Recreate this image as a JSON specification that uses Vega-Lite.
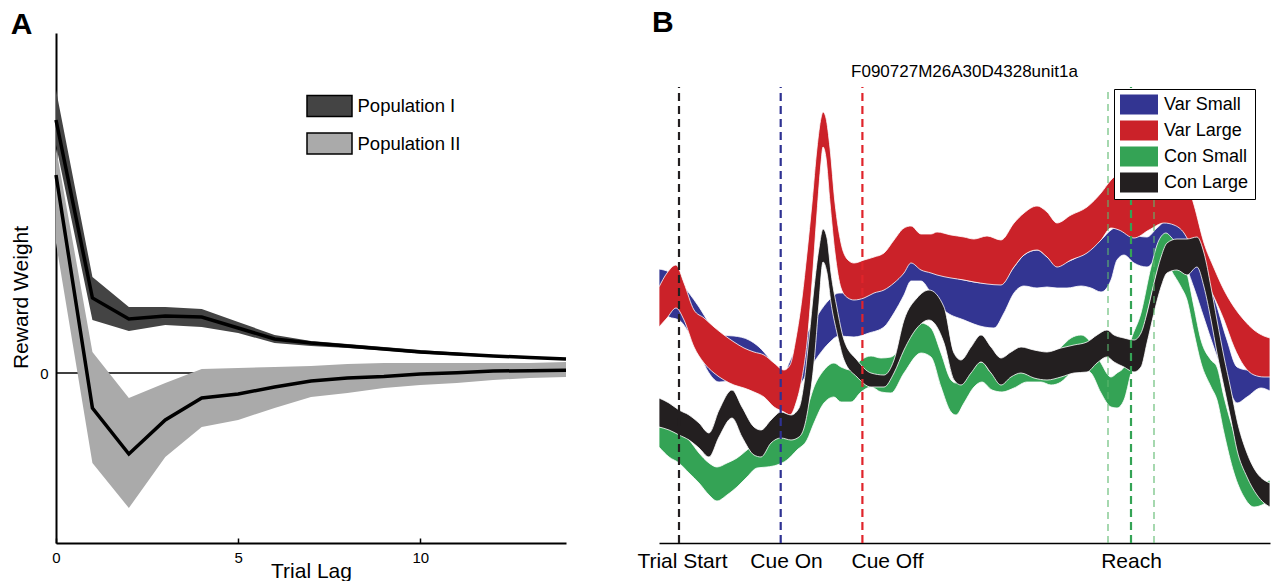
{
  "$schema": "https://vega.github.io/schema/vega-lite/v6.json",
  "padding": {"left": 10, "top": 7, "right": 0, "bottom": 0},
  "spacing": 63,
  "align": "none",
  "config": {
    "font": "Liberation Sans",
    "view": {"stroke": null},
    "axis": {"grid": false, "domainColor": "black", "labelColor": "black", "titleColor": "black", "tickColor": "black", "titleFontWeight": "normal"},
    "legend": {"labelColor": "black"},
    "title": {"color": "black"}
  },
  "resolve": {"scale": {"color": "independent"}},
  "hconcat": [
    {
      "title": {"text": "A", "anchor": "start", "frame": "bounds", "fontSize": 30, "fontWeight": "bold", "offset": -7},
      "width": 510,
      "height": 510,
      "layer": [
        {
          "data": {"values": [{"z": 0}]},
          "mark": {"type": "rule", "color": "black", "strokeWidth": 1.5},
          "encoding": {"y": {"field": "z", "type": "quantitative", "scale": {"domain": [-1.7, 3.4], "nice": false, "zero": false}}}
        },
        {
          "data": {"values": [
            {"pop": "Population II", "lag": 0, "m": 1.98, "lo": 1.30, "hi": 2.25},
            {"pop": "Population II", "lag": 1, "m": -0.35, "lo": -0.90, "hi": 0.21},
            {"pop": "Population II", "lag": 2, "m": -0.81, "lo": -1.35, "hi": -0.25},
            {"pop": "Population II", "lag": 3, "m": -0.47, "lo": -0.84, "hi": -0.10},
            {"pop": "Population II", "lag": 4, "m": -0.25, "lo": -0.54, "hi": 0.04},
            {"pop": "Population II", "lag": 5, "m": -0.21, "lo": -0.47, "hi": 0.05},
            {"pop": "Population II", "lag": 6, "m": -0.14, "lo": -0.35, "hi": 0.06},
            {"pop": "Population II", "lag": 7, "m": -0.08, "lo": -0.24, "hi": 0.07},
            {"pop": "Population II", "lag": 8, "m": -0.05, "lo": -0.20, "hi": 0.09},
            {"pop": "Population II", "lag": 9, "m": -0.035, "lo": -0.15, "hi": 0.10},
            {"pop": "Population II", "lag": 10, "m": -0.01, "lo": -0.12, "hi": 0.10},
            {"pop": "Population II", "lag": 11, "m": 0.003, "lo": -0.10, "hi": 0.10},
            {"pop": "Population II", "lag": 12, "m": 0.02, "lo": -0.07, "hi": 0.10},
            {"pop": "Population II", "lag": 13, "m": 0.023, "lo": -0.05, "hi": 0.10},
            {"pop": "Population II", "lag": 14, "m": 0.027, "lo": -0.04, "hi": 0.11},
            {"pop": "Population I", "lag": 0, "m": 2.53, "lo": 2.28, "hi": 2.83},
            {"pop": "Population I", "lag": 1, "m": 0.75, "lo": 0.53, "hi": 0.96},
            {"pop": "Population I", "lag": 2, "m": 0.54, "lo": 0.42, "hi": 0.66},
            {"pop": "Population I", "lag": 3, "m": 0.57, "lo": 0.48, "hi": 0.66},
            {"pop": "Population I", "lag": 4, "m": 0.56, "lo": 0.46, "hi": 0.64},
            {"pop": "Population I", "lag": 5, "m": 0.45, "lo": 0.40, "hi": 0.51},
            {"pop": "Population I", "lag": 6, "m": 0.34, "lo": 0.30, "hi": 0.38},
            {"pop": "Population I", "lag": 7, "m": 0.30, "lo": 0.27, "hi": 0.32},
            {"pop": "Population I", "lag": 8, "m": 0.27, "lo": 0.25, "hi": 0.29},
            {"pop": "Population I", "lag": 9, "m": 0.24, "lo": 0.225, "hi": 0.26},
            {"pop": "Population I", "lag": 10, "m": 0.21, "lo": 0.195, "hi": 0.23},
            {"pop": "Population I", "lag": 11, "m": 0.19, "lo": 0.175, "hi": 0.205},
            {"pop": "Population I", "lag": 12, "m": 0.17, "lo": 0.16, "hi": 0.18},
            {"pop": "Population I", "lag": 13, "m": 0.155, "lo": 0.145, "hi": 0.165},
            {"pop": "Population I", "lag": 14, "m": 0.14, "lo": 0.13, "hi": 0.15}
          ]},
          "layer": [
            {
              "mark": {"type": "area", "opacity": 1},
              "encoding": {
                "x": {"field": "lag", "type": "quantitative", "scale": {"domain": [0, 14], "nice": false},
                  "axis": {"values": [0, 5, 10], "title": "Trial Lag", "titleFontSize": 21, "labelFontSize": 15, "domainWidth": 2, "tickSize": -5, "tickWidth": 1.5, "labelPadding": 12, "titlePadding": -5, "labelFlush": false}},
                "y": {"field": "lo", "type": "quantitative", "scale": {"domain": [-1.7, 3.4], "nice": false, "zero": false},
                  "axis": {"values": [0], "labelExpr": "'0'", "title": "Reward Weight", "titleFontSize": 21, "labelFontSize": 15, "domainWidth": 2, "ticks": false, "labelPadding": 8, "titlePadding": 8, "titleY": 264}},
                "y2": {"field": "hi"},
                "color": {"field": "pop", "type": "nominal",
                  "scale": {"domain": ["Population I", "Population II"], "range": ["#444444", "#aaaaaa"]},
                  "legend": {"orient": "none", "legendX": 250, "legendY": 61.5, "title": null, "padding": 0,
                    "symbolType": "M-1,-1H3.286V1H-1Z", "symbolSize": 441, "symbolStrokeColor": "black", "symbolStrokeWidth": 1.5, "symbolOpacity": 1,
                    "labelFontSize": 18.5, "labelOffset": 28.5, "rowPadding": 10.5}}
              }
            },
            {
              "mark": {"type": "line", "color": "black", "strokeWidth": 3.5},
              "encoding": {
                "x": {"field": "lag", "type": "quantitative"},
                "y": {"field": "m", "type": "quantitative"},
                "detail": {"field": "pop"}
              }
            }
          ]
        }
      ]
    },
    {
      "title": {"text": "B", "anchor": "start", "frame": "bounds", "fontSize": 30, "fontWeight": "bold", "offset": -7, "dx": 15},
      "spacing": 26,
      "vconcat": [
        {
          "width": 611,
          "height": 1,
          "data": {"values": [{"t": 0}]},
          "mark": {"type": "point", "opacity": 0},
          "encoding": {"x": {"field": "t", "type": "quantitative", "axis": null}}
        },
        {
          "title": {"text": "F090727M26A30D4328unit1a", "fontSize": 17, "fontWeight": "normal", "offset": 2},
          "width": 611,
          "height": 460,
          "encoding": {
            "x": {"field": "t", "type": "quantitative", "scale": {"domain": [0, 611], "nice": false},
              "axis": {"values": [23, 127, 228, 472], "labelExpr": "datum.value == 23 ? 'Trial Start' : datum.value == 127 ? 'Cue On' : datum.value == 228 ? 'Cue Off' : 'Reach'",
                "title": null, "labelFontSize": 21, "ticks": false, "labelPadding": 7, "domainWidth": 1.5, "labelOverlap": false, "labelFlush": false}}
          },
          "resolve": {"scale": {"color": "independent"}},
          "layer": [
            {
              "data": {"values": [
                {"s":"Var Small","t":0,"lo":233,"hi":274},{"s":"Var Small","t":10,"lo":226,"hi":271},{"s":"Var Small","t":20,"lo":223,"hi":263},{"s":"Var Small","t":30,"lo":210,"hi":250},{"s":"Var Small","t":40,"lo":190,"hi":236},{"s":"Var Small","t":50,"lo":170,"hi":220},{"s":"Var Small","t":60,"lo":161,"hi":208},{"s":"Var Small","t":75,"lo":162,"hi":207},{"s":"Var Small","t":90,"lo":161,"hi":203},{"s":"Var Small","t":100,"lo":156,"hi":196},{"s":"Var Small","t":110,"lo":146,"hi":185},{"s":"Var Small","t":120,"lo":138,"hi":172},{"s":"Var Small","t":125,"lo":137,"hi":168},{"s":"Var Small","t":130,"lo":143,"hi":180},{"s":"Var Small","t":140,"lo":156,"hi":200},{"s":"Var Small","t":150,"lo":173,"hi":213},{"s":"Var Small","t":160,"lo":188,"hi":230},{"s":"Var Small","t":170,"lo":200,"hi":243},{"s":"Var Small","t":180,"lo":207,"hi":250},{"s":"Var Small","t":195,"lo":206,"hi":250},{"s":"Var Small","t":210,"lo":210,"hi":251},{"s":"Var Small","t":225,"lo":216,"hi":255},{"s":"Var Small","t":235,"lo":230,"hi":263},{"s":"Var Small","t":245,"lo":248,"hi":276},{"s":"Var Small","t":252,"lo":262,"hi":281},{"s":"Var Small","t":262,"lo":262,"hi":277},{"s":"Var Small","t":272,"lo":250,"hi":272},{"s":"Var Small","t":285,"lo":233,"hi":268},{"s":"Var Small","t":305,"lo":223,"hi":263},{"s":"Var Small","t":325,"lo":216,"hi":260},{"s":"Var Small","t":335,"lo":215,"hi":260},{"s":"Var Small","t":345,"lo":230,"hi":263},{"s":"Var Small","t":355,"lo":250,"hi":276},{"s":"Var Small","t":365,"lo":257,"hi":288},{"s":"Var Small","t":378,"lo":255,"hi":293},{"s":"Var Small","t":388,"lo":256,"hi":286},{"s":"Var Small","t":398,"lo":255,"hi":278},{"s":"Var Small","t":408,"lo":255,"hi":281},{"s":"Var Small","t":422,"lo":257,"hi":288},{"s":"Var Small","t":432,"lo":255,"hi":295},{"s":"Var Small","t":442,"lo":251,"hi":303},{"s":"Var Small","t":452,"lo":263,"hi":313},{"s":"Var Small","t":458,"lo":283,"hi":316},{"s":"Var Small","t":465,"lo":288,"hi":315},{"s":"Var Small","t":475,"lo":280,"hi":308},{"s":"Var Small","t":488,"lo":276,"hi":306},{"s":"Var Small","t":498,"lo":285,"hi":315},{"s":"Var Small","t":512,"lo":290,"hi":325},{"s":"Var Small","t":525,"lo":280,"hi":316},{"s":"Var Small","t":535,"lo":255,"hi":296},{"s":"Var Small","t":545,"lo":225,"hi":272},{"s":"Var Small","t":555,"lo":195,"hi":246},{"s":"Var Small","t":568,"lo":160,"hi":203},{"s":"Var Small","t":578,"lo":140,"hi":176},{"s":"Var Small","t":588,"lo":146,"hi":173},{"s":"Var Small","t":602,"lo":155,"hi":172},{"s":"Var Small","t":611,"lo":152,"hi":172},
                {"s":"Var Large","t":0,"lo":216,"hi":256},{"s":"Var Large","t":8,"lo":225,"hi":270},{"s":"Var Large","t":17,"lo":235,"hi":278},{"s":"Var Large","t":25,"lo":223,"hi":260},{"s":"Var Large","t":35,"lo":196,"hi":233},{"s":"Var Large","t":45,"lo":180,"hi":225},{"s":"Var Large","t":55,"lo":170,"hi":216},{"s":"Var Large","t":65,"lo":163,"hi":208},{"s":"Var Large","t":75,"lo":158,"hi":201},{"s":"Var Large","t":85,"lo":155,"hi":195},{"s":"Var Large","t":95,"lo":151,"hi":191},{"s":"Var Large","t":105,"lo":146,"hi":188},{"s":"Var Large","t":115,"lo":136,"hi":180},{"s":"Var Large","t":125,"lo":131,"hi":173},{"s":"Var Large","t":131,"lo":128,"hi":178},{"s":"Var Large","t":137,"lo":140,"hi":205},{"s":"Var Large","t":143,"lo":165,"hi":245},{"s":"Var Large","t":148,"lo":200,"hi":290},{"s":"Var Large","t":153,"lo":260,"hi":340},{"s":"Var Large","t":158,"lo":330,"hi":395},{"s":"Var Large","t":162,"lo":380,"hi":425},{"s":"Var Large","t":164,"lo":396,"hi":431},{"s":"Var Large","t":167,"lo":385,"hi":425},{"s":"Var Large","t":171,"lo":340,"hi":395},{"s":"Var Large","t":176,"lo":290,"hi":340},{"s":"Var Large","t":182,"lo":255,"hi":300},{"s":"Var Large","t":189,"lo":245,"hi":283},{"s":"Var Large","t":195,"lo":243,"hi":280},{"s":"Var Large","t":205,"lo":245,"hi":283},{"s":"Var Large","t":215,"lo":250,"hi":286},{"s":"Var Large","t":225,"lo":253,"hi":290},{"s":"Var Large","t":235,"lo":260,"hi":303},{"s":"Var Large","t":245,"lo":270,"hi":315},{"s":"Var Large","t":252,"lo":280,"hi":317},{"s":"Var Large","t":262,"lo":273,"hi":309},{"s":"Var Large","t":272,"lo":270,"hi":309},{"s":"Var Large","t":278,"lo":268,"hi":311},{"s":"Var Large","t":292,"lo":265,"hi":308},{"s":"Var Large","t":305,"lo":263,"hi":306},{"s":"Var Large","t":315,"lo":261,"hi":304},{"s":"Var Large","t":328,"lo":259,"hi":307},{"s":"Var Large","t":342,"lo":258,"hi":303},{"s":"Var Large","t":355,"lo":276,"hi":320},{"s":"Var Large","t":365,"lo":288,"hi":330},{"s":"Var Large","t":378,"lo":293,"hi":337},{"s":"Var Large","t":388,"lo":286,"hi":331},{"s":"Var Large","t":398,"lo":276,"hi":320},{"s":"Var Large","t":412,"lo":283,"hi":328},{"s":"Var Large","t":428,"lo":290,"hi":336},{"s":"Var Large","t":442,"lo":303,"hi":350},{"s":"Var Large","t":452,"lo":315,"hi":363},{"s":"Var Large","t":460,"lo":313,"hi":370},{"s":"Var Large","t":475,"lo":305,"hi":375},{"s":"Var Large","t":490,"lo":313,"hi":378},{"s":"Var Large","t":505,"lo":320,"hi":380},{"s":"Var Large","t":515,"lo":318,"hi":375},{"s":"Var Large","t":525,"lo":310,"hi":368},{"s":"Var Large","t":535,"lo":290,"hi":338},{"s":"Var Large","t":545,"lo":266,"hi":300},{"s":"Var Large","t":555,"lo":246,"hi":275},{"s":"Var Large","t":565,"lo":223,"hi":253},{"s":"Var Large","t":575,"lo":196,"hi":236},{"s":"Var Large","t":585,"lo":177,"hi":223},{"s":"Var Large","t":595,"lo":168,"hi":213},{"s":"Var Large","t":605,"lo":166,"hi":207},{"s":"Var Large","t":611,"lo":166,"hi":205},
                {"s":"Con Small","t":0,"lo":96,"hi":116},{"s":"Con Small","t":10,"lo":86,"hi":115},{"s":"Con Small","t":20,"lo":80,"hi":111},{"s":"Con Small","t":30,"lo":70,"hi":103},{"s":"Con Small","t":40,"lo":60,"hi":90},{"s":"Con Small","t":50,"lo":48,"hi":80},{"s":"Con Small","t":58,"lo":42,"hi":76},{"s":"Con Small","t":68,"lo":48,"hi":80},{"s":"Con Small","t":78,"lo":56,"hi":85},{"s":"Con Small","t":88,"lo":66,"hi":93},{"s":"Con Small","t":98,"lo":75,"hi":101},{"s":"Con Small","t":108,"lo":76,"hi":106},{"s":"Con Small","t":118,"lo":78,"hi":110},{"s":"Con Small","t":128,"lo":83,"hi":113},{"s":"Con Small","t":138,"lo":93,"hi":123},{"s":"Con Small","t":148,"lo":103,"hi":135},{"s":"Con Small","t":155,"lo":120,"hi":156},{"s":"Con Small","t":165,"lo":140,"hi":173},{"s":"Con Small","t":175,"lo":146,"hi":180},{"s":"Con Small","t":182,"lo":141,"hi":176},{"s":"Con Small","t":192,"lo":141,"hi":173},{"s":"Con Small","t":202,"lo":151,"hi":183},{"s":"Con Small","t":212,"lo":156,"hi":187},{"s":"Con Small","t":222,"lo":151,"hi":185},{"s":"Con Small","t":232,"lo":150,"hi":186},{"s":"Con Small","t":245,"lo":170,"hi":200},{"s":"Con Small","t":262,"lo":190,"hi":220},{"s":"Con Small","t":272,"lo":186,"hi":215},{"s":"Con Small","t":282,"lo":156,"hi":190},{"s":"Con Small","t":292,"lo":131,"hi":163},{"s":"Con Small","t":297,"lo":128,"hi":160},{"s":"Con Small","t":305,"lo":140,"hi":170},{"s":"Con Small","t":315,"lo":156,"hi":180},{"s":"Con Small","t":323,"lo":161,"hi":181},{"s":"Con Small","t":333,"lo":153,"hi":170},{"s":"Con Small","t":343,"lo":151,"hi":173},{"s":"Con Small","t":355,"lo":155,"hi":178},{"s":"Con Small","t":368,"lo":161,"hi":181},{"s":"Con Small","t":382,"lo":161,"hi":183},{"s":"Con Small","t":392,"lo":158,"hi":188},{"s":"Con Small","t":402,"lo":161,"hi":196},{"s":"Con Small","t":412,"lo":170,"hi":205},{"s":"Con Small","t":422,"lo":175,"hi":208},{"s":"Con Small","t":432,"lo":170,"hi":200},{"s":"Con Small","t":442,"lo":150,"hi":180},{"s":"Con Small","t":452,"lo":136,"hi":166},{"s":"Con Small","t":458,"lo":135,"hi":170},{"s":"Con Small","t":465,"lo":143,"hi":176},{"s":"Con Small","t":472,"lo":170,"hi":203},{"s":"Con Small","t":482,"lo":203,"hi":230},{"s":"Con Small","t":492,"lo":246,"hi":276},{"s":"Con Small","t":500,"lo":276,"hi":303},{"s":"Con Small","t":507,"lo":283,"hi":310},{"s":"Con Small","t":512,"lo":273,"hi":306},{"s":"Con Small","t":522,"lo":256,"hi":290},{"s":"Con Small","t":528,"lo":243,"hi":270},{"s":"Con Small","t":535,"lo":210,"hi":236},{"s":"Con Small","t":542,"lo":180,"hi":203},{"s":"Con Small","t":552,"lo":156,"hi":183},{"s":"Con Small","t":558,"lo":143,"hi":176},{"s":"Con Small","t":565,"lo":110,"hi":146},{"s":"Con Small","t":575,"lo":70,"hi":110},{"s":"Con Small","t":585,"lo":46,"hi":80},{"s":"Con Small","t":595,"lo":36,"hi":63},{"s":"Con Small","t":603,"lo":38,"hi":60},{"s":"Con Small","t":611,"lo":43,"hi":63},
                {"s":"Con Large","t":0,"lo":116,"hi":145},{"s":"Con Large","t":10,"lo":113,"hi":140},{"s":"Con Large","t":20,"lo":108,"hi":133},{"s":"Con Large","t":30,"lo":103,"hi":128},{"s":"Con Large","t":40,"lo":95,"hi":120},{"s":"Con Large","t":50,"lo":86,"hi":110},{"s":"Con Large","t":60,"lo":106,"hi":133},{"s":"Con Large","t":73,"lo":125,"hi":153},{"s":"Con Large","t":83,"lo":106,"hi":136},{"s":"Con Large","t":95,"lo":88,"hi":116},{"s":"Con Large","t":102,"lo":86,"hi":113},{"s":"Con Large","t":112,"lo":100,"hi":123},{"s":"Con Large","t":122,"lo":105,"hi":131},{"s":"Con Large","t":132,"lo":103,"hi":128},{"s":"Con Large","t":140,"lo":106,"hi":135},{"s":"Con Large","t":145,"lo":115,"hi":160},{"s":"Con Large","t":150,"lo":140,"hi":205},{"s":"Con Large","t":155,"lo":180,"hi":255},{"s":"Con Large","t":160,"lo":240,"hi":295},{"s":"Con Large","t":164,"lo":281,"hi":314},{"s":"Con Large","t":168,"lo":270,"hi":305},{"s":"Con Large","t":172,"lo":240,"hi":270},{"s":"Con Large","t":178,"lo":210,"hi":235},{"s":"Con Large","t":185,"lo":183,"hi":203},{"s":"Con Large","t":198,"lo":166,"hi":183},{"s":"Con Large","t":212,"lo":156,"hi":170},{"s":"Con Large","t":225,"lo":156,"hi":168},{"s":"Con Large","t":235,"lo":170,"hi":183},{"s":"Con Large","t":245,"lo":193,"hi":223},{"s":"Con Large","t":258,"lo":215,"hi":245},{"s":"Con Large","t":270,"lo":223,"hi":253},{"s":"Con Large","t":285,"lo":200,"hi":236},{"s":"Con Large","t":295,"lo":163,"hi":190},{"s":"Con Large","t":302,"lo":158,"hi":183},{"s":"Con Large","t":312,"lo":170,"hi":196},{"s":"Con Large","t":322,"lo":181,"hi":208},{"s":"Con Large","t":332,"lo":170,"hi":196},{"s":"Con Large","t":342,"lo":158,"hi":185},{"s":"Con Large","t":352,"lo":166,"hi":191},{"s":"Con Large","t":362,"lo":170,"hi":196},{"s":"Con Large","t":375,"lo":165,"hi":193},{"s":"Con Large","t":388,"lo":163,"hi":191},{"s":"Con Large","t":402,"lo":166,"hi":195},{"s":"Con Large","t":415,"lo":170,"hi":198},{"s":"Con Large","t":428,"lo":171,"hi":201},{"s":"Con Large","t":438,"lo":180,"hi":208},{"s":"Con Large","t":448,"lo":186,"hi":213},{"s":"Con Large","t":455,"lo":181,"hi":208},{"s":"Con Large","t":465,"lo":176,"hi":205},{"s":"Con Large","t":475,"lo":171,"hi":203},{"s":"Con Large","t":482,"lo":176,"hi":210},{"s":"Con Large","t":488,"lo":200,"hi":230},{"s":"Con Large","t":495,"lo":230,"hi":260},{"s":"Con Large","t":502,"lo":256,"hi":286},{"s":"Con Large","t":508,"lo":270,"hi":300},{"s":"Con Large","t":518,"lo":273,"hi":304},{"s":"Con Large","t":528,"lo":268,"hi":304},{"s":"Con Large","t":538,"lo":276,"hi":306},{"s":"Con Large","t":545,"lo":256,"hi":290},{"s":"Con Large","t":552,"lo":223,"hi":256},{"s":"Con Large","t":558,"lo":190,"hi":223},{"s":"Con Large","t":565,"lo":156,"hi":186},{"s":"Con Large","t":572,"lo":123,"hi":153},{"s":"Con Large","t":578,"lo":93,"hi":123},{"s":"Con Large","t":588,"lo":66,"hi":90},{"s":"Con Large","t":598,"lo":48,"hi":70},{"s":"Con Large","t":605,"lo":40,"hi":63},{"s":"Con Large","t":611,"lo":36,"hi":60}
              ]},
              "mark": {"type": "area", "interpolate": "monotone", "stroke": "white", "strokeWidth": 0.8, "opacity": 1},
              "encoding": {
                "y": {"field": "lo", "type": "quantitative", "scale": {"domain": [0, 460], "nice": false, "zero": false},
                  "axis": {"labels": false, "ticks": false, "title": null, "domainWidth": 1.5}},
                "y2": {"field": "hi"},
                "color": {"field": "s", "type": "nominal",
                  "scale": {"domain": ["Var Small", "Var Large", "Con Small", "Con Large"], "range": ["#333592", "#cb2229", "#34a355", "#231f20"]},
                  "legend": {"orient": "none", "legendX": 455, "legendY": 6, "title": null, "padding": 6,
                    "strokeColor": "black", "fillColor": "white",
                    "symbolType": "M-1,-1.05H3V1.05H-1Z", "symbolSize": 361, "symbolStrokeWidth": 0, "symbolOpacity": 1,
                    "labelFontSize": 18, "labelOffset": 25, "rowPadding": 5}}
              }
            },
            {
              "data": {"values": [{"t": 20, "ev": "Trial Start", "y0": 0, "y1": 456}, {"t": 121.7, "ev": "Cue On", "y0": 0, "y1": 456}, {"t": 203.4, "ev": "Cue Off", "y0": 0, "y1": 456}, {"t": 472, "ev": "Reach", "y0": 0, "y1": 456}]},
              "mark": {"type": "rule", "strokeDash": [8, 5], "strokeWidth": 2.2},
              "encoding": {
                "y": {"field": "y0", "type": "quantitative", "axis": null},
                "y2": {"field": "y1"},
                "color": {"field": "ev", "type": "nominal", "legend": null,
                  "scale": {"domain": ["Trial Start", "Cue On", "Cue Off", "Reach"], "range": ["#231f20", "#2e3192", "#e0242b", "#34a355"]}}
              }
            },
            {
              "data": {"values": [{"t": 449, "y0": 0, "y1": 456}, {"t": 495, "y0": 0, "y1": 456}]},
              "mark": {"type": "rule", "strokeDash": [7, 5], "strokeWidth": 1.1, "color": "#5db86e"},
              "encoding": {
                "y": {"field": "y0", "type": "quantitative", "axis": null},
                "y2": {"field": "y1"}
              }
            }
          ]
        }
      ]
    }
  ]
}
